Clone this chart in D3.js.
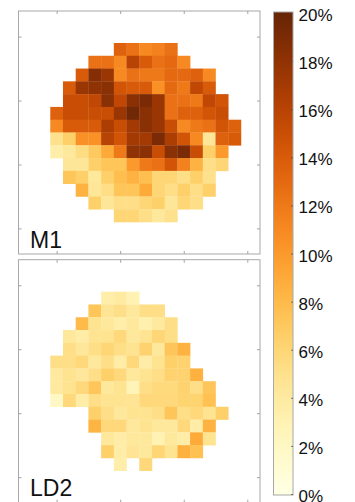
<!DOCTYPE html>
<html>
<head>
<meta charset="utf-8">
<script src="https://cdn.jsdelivr.net/npm/d3@7"></script>
<style>
  html, body { margin: 0; padding: 0; background: #fff; }
  svg { display: block; }
  text { font-family: "Liberation Sans", Arial, Helvetica, sans-serif; fill: #111; }
</style>
</head>
<body>
<svg id="chart" width="355" height="502"></svg>
<script>
// Grid rows that contain data (row index from the top of each map)
const rowIndex = [3, 4, 5, 6, 7, 8, 9, 10, 11, 12, 13, 14, 15, 16];

// M1 map: first occupied column of each row and the cell values (%)
const m1FirstCol = [8, 6, 5, 4, 4, 3, 3, 3, 3, 4, 4, 5, 6, 8];
const m1Values = [
  [13.5, 12.5, 11, 11.5, 12.5],
  [12.5, 12.5, 11, 16, 14, 12.5, 13, 11],
  [14, 18.5, 17.5, 11, 12.5, 12, 12, 13, 13, 13.5, 11],
  [14, 17.5, 18, 18.3, 14.5, 14, 14, 10.5, 13, 12, 15.5, 14],
  [15, 15, 15.5, 18.3, 15.5, 18.3, 19, 17.5, 12.5, 12.5, 12, 15.5, 14.5],
  [13.5, 15, 15, 15, 15, 17.5, 19.5, 18.3, 17.5, 12.5, 13.5, 13.5, 14.5, 15],
  [11, 14, 14, 14, 16.5, 15, 17, 18.3, 17.5, 15, 11, 12, 12.5, 14.5, 13.5],
  [5, 6.5, 10.5, 10.5, 16, 14.5, 17, 17, 19, 16.5, 14.5, 11, 4.5, 13.5, 14],
  [3.5, 4.3, 5.5, 7, 9, 12, 18, 18.3, 15, 18.3, 19, 15, 6.5, 10],
  [4.5, 4.5, 6.5, 7.3, 7.3, 10, 12, 12.5, 14.5, 11.5, 8.5, 5.3, 6],
  [7.3, 6.5, 4.3, 6.5, 7.7, 8.5, 7.7, 6, 6, 5.3, 6.5, 5],
  [8.5, 4.5, 5.3, 7.3, 7.3, 9, 6, 5.3, 6.5, 5.3, 6.5],
  [6.5, 4.5, 5.3, 5.3, 6, 6.5, 4.5, 6, 5.3],
  [6, 6, 5.3, 4.3, 5]
];

// LD2 map: first occupied column of each row and the cell values (%), null = no data
const ld2FirstCol = [7, 6, 5, 4, 4, 3, 3, 3, 3, 6, 6, 7, 7, 8];
const ld2Values = [
  [3.5, 4, 3],
  [7.3, 4.7, 5.2, 4.3, 5.3, 5.3],
  [8, 4.8, 4.3, 3.5, 4.3, 3.3, 4.2, 5.3],
  [4.3, 3.7, 4.8, 4.8, 5.8, 4.3, 4.8, 6, 5.3],
  [5.3, 4.4, 5.3, 6, 5.3, 4.8, 6.3, 4.3, 7.2, 8.5],
  [5.3, 5.3, 5.8, 4.3, 5.3, 3.7, 5.8, 3.7, 4.8, 6.5, 6.3],
  [4.2, 4.8, 4.4, 5.3, 6.5, 5.8, 4.3, 4.8, 5.3, 6.3, 6.3, 8.6],
  [4.2, 4.8, 5.8, 7.2, 4.3, 4.8, 2.8, 5.3, 5.7, 5.7, 6.3, 5.3, 7.2],
  [2, 5.8, 3.7, 5.3, 4.8, 4.8, 4.7, 5.8, 5.8, 5.8, 6.2, 6.2, 7.6],
  [6.5, 5.3, 4.3, 4.8, 4.8, 5.3, 7.2, 5.3, 5.8, 4.8, 6.5],
  [8.4, 5.8, 5.8, 4.3, 4.8, 4.3, 4.3, 5.8, 3.7, 8.5],
  [4.3, 3.7, 4.3, 4.3, 3, 4.3, 3.7, 9, 4.8],
  [6.5, 3.7, 4.7, 4.3, 6, 4.8, 8.6, 7.6],
  [3.5, null, 5.8]
];

const panelNames = ["M1", "LD2"];
const xTicks = [3, 8, 13, 18];
const yTicks = [2, 7, 12, 17];
const colorTicks = [0, 2, 4, 6, 8, 10, 12, 14, 16, 18, 20];

const svg = d3.select("#chart");
const color = d3.scaleSequential(d3.interpolateYlOrBr).domain([0, 20]);

// Shared map geometry
const mapLeft = 18.5, mapRight = 260, mapHeight = 243;
const panelTops = [11, 259.7];
const x = d3.scaleLinear().domain([0, 19]).range([mapLeft, mapRight]);
const cellW = x(1) - x(0);

function toCells(firstCols, values) {
  const cells = [];
  values.forEach((row, i) => {
    row.forEach((v, j) => {
      if (v !== null) cells.push({ r: rowIndex[i], c: firstCols[i] + j, v });
    });
  });
  return cells;
}

const maps = [toCells(m1FirstCol, m1Values), toCells(ld2FirstCol, ld2Values)];

maps.forEach((cells, k) => {
  const top = panelTops[k];
  const y = d3.scaleLinear().domain([0, 19]).range([top, top + mapHeight]);
  const cellH = y(1) - y(0);
  const g = svg.append("g");

  g.selectAll("rect.cell")
    .data(cells)
    .join("rect")
    .attr("class", "cell")
    .attr("x", d => x(d.c - 0.5))
    .attr("y", d => y(d.r - 0.5))
    .attr("width", cellW + 0.3)
    .attr("height", cellH + 0.3)
    .attr("fill", d => color(d.v));

  // Inward-facing ticks on all four sides
  const tickLen = 3;
  const tickStyle = a => a.selectAll("path.domain").remove();
  g.append("g").attr("transform", `translate(0,${top})`)
    .call(d3.axisBottom(x).tickValues(xTicks).tickSize(tickLen).tickFormat(""))
    .call(tickStyle);
  g.append("g").attr("transform", `translate(0,${top + mapHeight})`)
    .call(d3.axisTop(x).tickValues(xTicks).tickSize(tickLen).tickFormat(""))
    .call(tickStyle);
  g.append("g").attr("transform", `translate(${mapLeft},0)`)
    .call(d3.axisRight(y).tickValues(yTicks).tickSize(tickLen).tickFormat(""))
    .call(tickStyle);
  g.append("g").attr("transform", `translate(${mapRight},0)`)
    .call(d3.axisLeft(y).tickValues(yTicks).tickSize(tickLen).tickFormat(""))
    .call(tickStyle);
  g.selectAll(".tick line").attr("stroke", "#8c8c8c").attr("stroke-width", 0.8);

  g.append("rect")
    .attr("x", mapLeft).attr("y", top)
    .attr("width", mapRight - mapLeft).attr("height", mapHeight)
    .attr("fill", "none").attr("stroke", "#a8a8a8").attr("stroke-width", 1);

  g.append("text")
    .attr("x", 30).attr("y", top + 236.5)
    .attr("font-size", 23)
    .text(panelNames[k]);
});

// Colour bar
const cbX = 273.5, cbW = 19.5;
const cy = d3.scaleLinear().domain([0, 20]).range([494, 13]);
const grad = svg.append("defs").append("linearGradient")
  .attr("id", "cbGrad").attr("x1", 0).attr("y1", 1).attr("x2", 0).attr("y2", 0);
grad.selectAll("stop")
  .data(d3.range(0, 1.0001, 0.05))
  .join("stop")
  .attr("offset", d => d)
  .attr("stop-color", d => color(d * 20));

svg.append("rect")
  .attr("x", cbX).attr("y", cy(20) - 1)
  .attr("width", cbW).attr("height", cy(0) - cy(20) + 2)
  .attr("fill", "url(#cbGrad)")
  .attr("stroke", "#a8a8a8").attr("stroke-width", 1);

const cbAxis = svg.append("g").attr("transform", `translate(${cbX + cbW},0)`)
  .call(d3.axisLeft(cy).tickValues(colorTicks).tickSize(2).tickFormat(""));
cbAxis.select("path.domain").remove();
cbAxis.selectAll(".tick line").attr("stroke", "#555").attr("stroke-width", 0.8);

svg.append("g").selectAll("text")
  .data(colorTicks)
  .join("text")
  .attr("x", 298.5)
  .attr("y", d => cy(d) + 8)
  .attr("font-size", 17)
  .text(d => d + "%");
</script>
</body>
</html>
